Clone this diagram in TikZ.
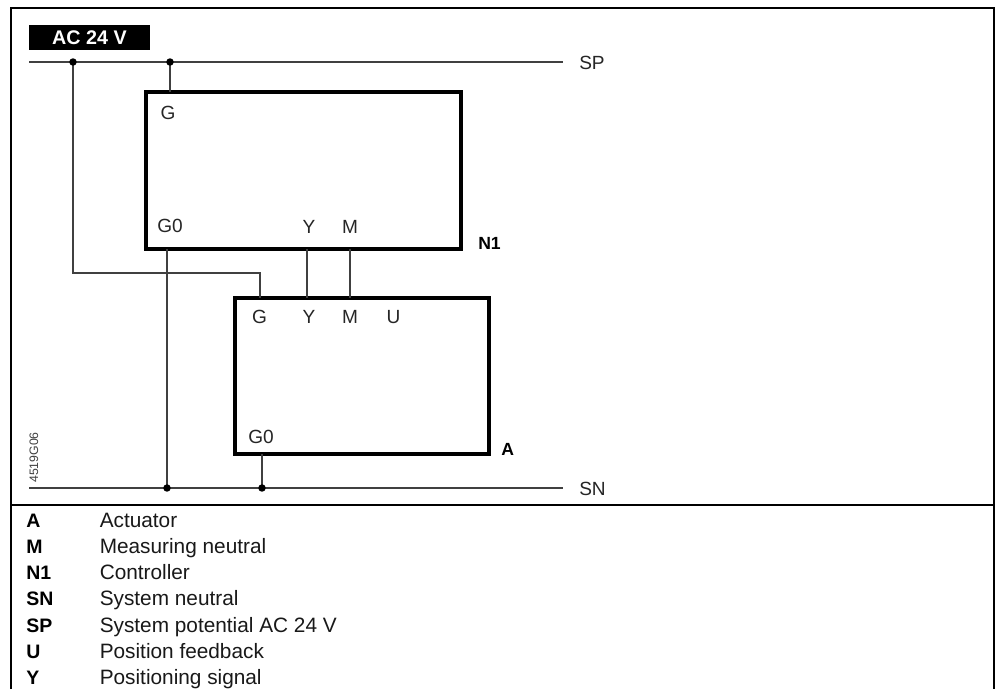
\documentclass[tikz,border=0pt]{standalone}
\usepackage{fontspec}
\setmainfont{Liberation Sans}
\tikzset{x=0.75pt,y=-0.75pt,
 wire/.style={draw=black!75,line width=0.95pt},
 heavy/.style={draw=black,line width=3pt,rectangle,minimum height=0pt},
 frame/.style={draw=black,line width=1.7pt},
 lbl/.style={font=\fontsize{14.3pt}{16pt}\selectfont,text=black!85,inner sep=0pt},
 blbl/.style={font=\fontsize{13.2pt}{16pt}\selectfont\bfseries,text=black,inner sep=0pt},
 legk/.style={font=\fontsize{14.6pt}{16pt}\selectfont\bfseries,text=black,inner sep=0pt,anchor=base west},
 legv/.style={font=\fontsize{15.6pt}{17pt}\selectfont,text=black!90,inner sep=0pt,anchor=base west},
 dot/.style={circle,fill=black,inner sep=0pt,minimum size=5.6pt}}
\begin{document}
\begin{tikzpicture}
\useasboundingbox (0,0) rectangle (995,689);
\fill[white] (0,0) rectangle (995,689);
\draw[frame] (11,689) -- (11,8) -- (994,8) -- (994,689);
\draw[frame] (11,505) -- (994,505);
\node[fill=black,text=white,font=\fontsize{14.8pt}{16pt}\selectfont\bfseries,minimum width=90.75pt,minimum height=18.75pt,inner sep=0pt] (ac) at (89.5,37.5) {AC 24 V};
\coordinate (spL) at (29,62);\coordinate (spR) at (563,62);
\coordinate (snL) at (29,488);\coordinate (snR) at (563,488);
\node[lbl,anchor=west] (sp) at (579,63) {SP};
\node[lbl,anchor=west] (sn) at (579,489) {SN};
\draw[wire] (spL) -- (spR);
\draw[wire] (snL) -- (snR);
\draw[heavy] (146,91.5) rectangle (461,248.5);
\draw[heavy] (235,297.5) rectangle (489,453.5);
\coordinate (j1) at (73,62);\coordinate (j2) at (170,62);
\coordinate (j3) at (167,488);\coordinate (j4) at (262,488);
\draw[wire] (j2) -- (170,91.5);
\draw[wire] (j1) -- (73,273) -- (260,273) -- (260,297.5);
\draw[wire] (167,248.5) -- (j3);
\draw[wire] (262,453.5) -- (j4);
\draw[wire] (307,248.5) -- (307,297.5);
\draw[wire] (350,248.5) -- (350,297.5);
\node[dot] (d1) at (j1) {};\node[dot] (d2) at (j2) {};
\node[dot] (d3) at (j3) {};\node[dot] (d4) at (j4) {};
\node[lbl] (g1) at (168,113) {G};
\node[lbl,anchor=west] (g01) at (157,226) {G0};
\node[lbl] (y1) at (309,227) {Y};
\node[lbl] (m1) at (350,227) {M};
\node[blbl,anchor=west] (n1) at (478,243) {N1};
\node[lbl] (g2) at (259.5,317) {G};
\node[lbl] (y2) at (309,317) {Y};
\node[lbl] (m2) at (350,317) {M};
\node[lbl] (u2) at (393.5,317) {U};
\node[lbl,anchor=west] (g02) at (248,437) {G0};
\node[blbl,anchor=west] (a) at (501,449) {A};
\node[rotate=90,font=\fontsize{9.2pt}{10pt}\selectfont,text=black!75,inner sep=0pt,anchor=west] (code) at (34,483) {4519G06};
\foreach \k/\t/\d [count=\i from 0] in {A/A/Actuator,M/M/Measuring neutral,N/N1/Controller,SN/SN/System neutral,SP/SP/System potential AC 24 V,U/U/Position feedback,Y/Y/Positioning signal}{
 \node[legk] (k\k) at (26,{527+\i*26.3}) {\t};
 \node[legv] (v\k) at (99.5,{527+\i*26.3}) {\d};
}
\end{tikzpicture}
\end{document}
